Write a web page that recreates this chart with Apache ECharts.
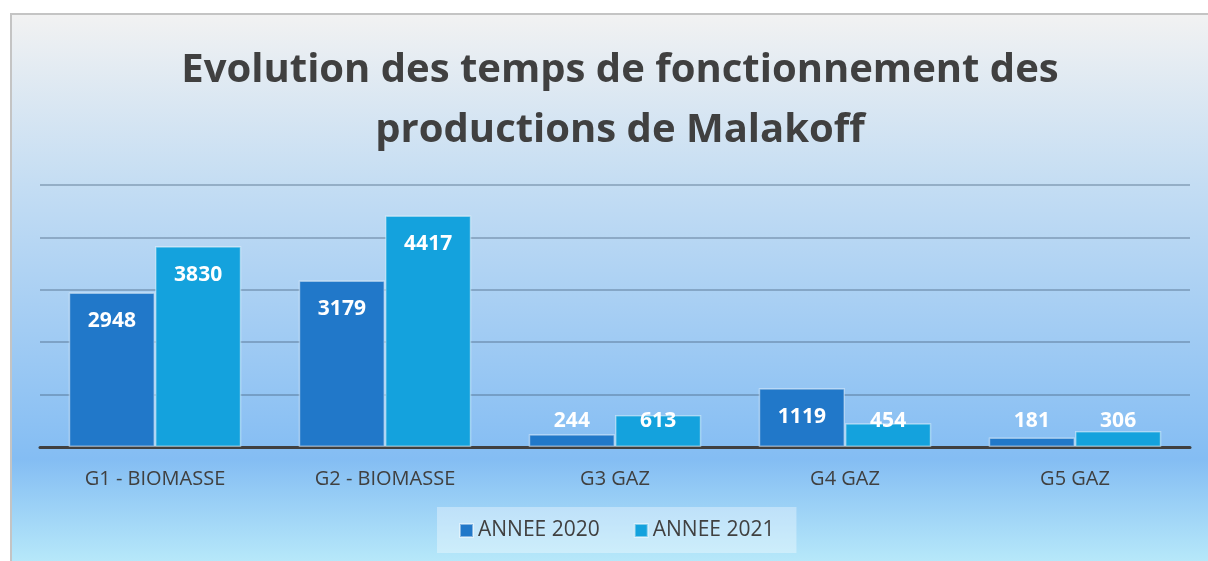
<!DOCTYPE html>
<html>
<head>
<meta charset="utf-8">
<script src="https://cdn.jsdelivr.net/npm/echarts@6/dist/echarts.min.js"></script>
<style>
	html, body { margin: 0; padding: 0; background: #ffffff; }
	#main { width: 1208px; height: 561px; }
</style>
</head>
<body>
<div id="main"></div>
<script>
	var categories = ['G1 - BIOMASSE', 'G2 - BIOMASSE', 'G3 GAZ', 'G4 GAZ', 'G5 GAZ'];
	var data2020 = [2948, 3179, 244, 1119, 181];
	var data2021 = [3830, 4417, 613, 454, 306];
	var seriesNames = ['ANNEE 2020', 'ANNEE 2021'];

	// petites barres : étiquette posée au-dessus de l'axe (comme Excel)
	function withLabels(values) {
		return values.map(function (v) {
			if (v < 1050) {
				return { value: v, label: { position: 'insideBottom', distance: 15 } };
			}
			return v;
		});
	}

	var myChart = echarts.init(document.getElementById('main'));
	var option = {
		backgroundColor: '#ffffff',
		graphic: [{
			type: 'rect',
			z: -10,
			shape: { x: 11, y: 14, width: 1220, height: 570 },
			style: {
				stroke: '#c4c4c4',
				lineWidth: 2,
				fill: {
					type: 'linear', x: 0, y: 0, x2: 0, y2: 1,
					colorStops: [
						{ offset: 0, color: '#f2f2f2' },
						{ offset: 0.3, color: '#c4ddf3' },
						{ offset: 0.78, color: '#84bdf3' },
						{ offset: 1, color: '#c2f2fb' }
					]
				}
			}
		}],
		title: {
			text: 'Evolution des temps de fonctionnement des\nproductions de Malakoff',
			left: 615,
			top: 36,
			textAlign: 'center',
			textStyle: {
				color: '#404040',
				fontFamily: 'Open Sans',
				fontWeight: 'bold',
				fontSize: 40,
				lineHeight: 60
			}
		},
		legend: {
			data: seriesNames,
			bottom: 8,
			left: 437,
			icon: 'rect',
			itemWidth: 13,
			itemHeight: 13,
			itemGap: 34,
			padding: [13, 22, 12, 22],
			backgroundColor: 'rgba(255,255,255,0.35)',
			textStyle: {
				color: '#404040',
				fontFamily: 'Open Sans',
				fontSize: 21
			}
		},
		grid: {
			left: 40,
			right: 18,
			top: 185,
			bottom: 114
		},
		xAxis: {
			type: 'category',
			data: categories,
			axisTick: { show: false },
			axisLine: { lineStyle: { color: '#404040', width: 3 } },
			axisLabel: {
				color: '#404040',
				fontFamily: 'Open Sans',
				fontSize: 20,
				margin: 22
			}
		},
		yAxis: {
			type: 'value',
			min: 0,
			max: 5000,
			interval: 1000,
			axisLabel: { show: false },
			axisLine: { show: false },
			axisTick: { show: false },
			splitLine: { lineStyle: { color: 'rgba(70,95,125,0.5)', width: 1.5 } }
		},
		series: [{
			name: seriesNames[0],
			type: 'bar',
			barGap: '0%',
			barCategoryGap: '25%',
			itemStyle: {
				color: '#2178c9',
				borderColor: 'rgba(255,255,255,0.45)',
				borderWidth: 1.5
			},
			label: {
				show: true,
				position: 'insideTop',
				distance: 18,
				color: '#ffffff',
				fontFamily: 'Open Sans',
				fontWeight: 'bold',
				fontSize: 21
			},
			data: withLabels(data2020)
		}, {
			name: seriesNames[1],
			type: 'bar',
			itemStyle: {
				color: '#14a2dd',
				borderColor: 'rgba(255,255,255,0.45)',
				borderWidth: 1.5
			},
			label: {
				show: true,
				position: 'insideTop',
				distance: 18,
				color: '#ffffff',
				fontFamily: 'Open Sans',
				fontWeight: 'bold',
				fontSize: 21
			},
			data: withLabels(data2021)
		}]
	};
	myChart.setOption(option);
</script>
</body>
</html>
